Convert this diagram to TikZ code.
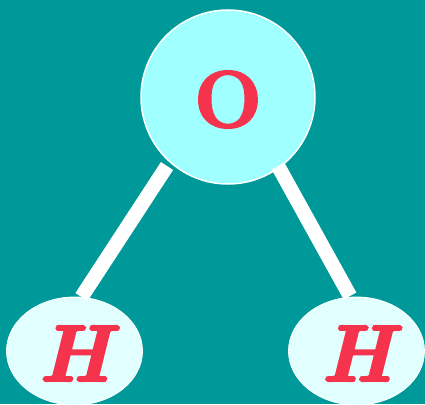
\documentclass[tikz,border=0pt]{standalone}
\usepackage{fontspec}
\usetikzlibrary{shapes.geometric}
\definecolor{bgteal}{RGB}{0,153,153}
\definecolor{oxy}{RGB}{160,255,255}
\definecolor{hyd}{RGB}{225,255,255}
\definecolor{lab}{RGB}{245,51,77}
\newcommand{\heavytext}[1]{\special{pdf:literal q 2 Tr 2.2 w}#1\special{pdf:literal Q}}
\tikzset{x=1pt,y=-1pt,
 atom/.style={ellipse,inner sep=0pt,text=lab},
 bondline/.style={draw=white,line width=14.5pt},
 hlabel/.style={text=lab,font=\fontsize{80}{80}\selectfont\bfseries\itshape,inner sep=0pt}}
\begin{document}
\begin{tikzpicture}
\fill[bgteal] (0,0) rectangle (425,404);
\useasboundingbox (0,0) rectangle (425,404);
\node[atom,fill=oxy,draw=white,line width=1.5pt,minimum width=174pt,minimum height=174pt] (o) at (228,97) {};
\node[atom,fill=hyd,draw=white,line width=0.8pt,minimum width=136pt,minimum height=108pt] (h1) at (74.5,351) {};
\node[atom,fill=hyd,draw=white,line width=0.8pt,minimum width=136pt,minimum height=108pt] (h2) at (356.5,351) {};
\node[text=lab,font=\fontsize{80}{80}\selectfont\bfseries,inner sep=0pt] (ol) at (228,99.5) {\heavytext{O}};
\node[hlabel] (hl1) at (74.5,353.5) {\heavytext{H}};
\node[hlabel] (hl2) at (357,353.5) {\heavytext{H}};
\coordinate (a1) at (167,166);
\coordinate (b1) at (81.5,297);
\coordinate (a2) at (278,166);
\coordinate (b2) at (350,296);
\draw[bondline] (a1) -- (b1);
\draw[bondline] (a2) -- (b2);
\end{tikzpicture}
\end{document}
